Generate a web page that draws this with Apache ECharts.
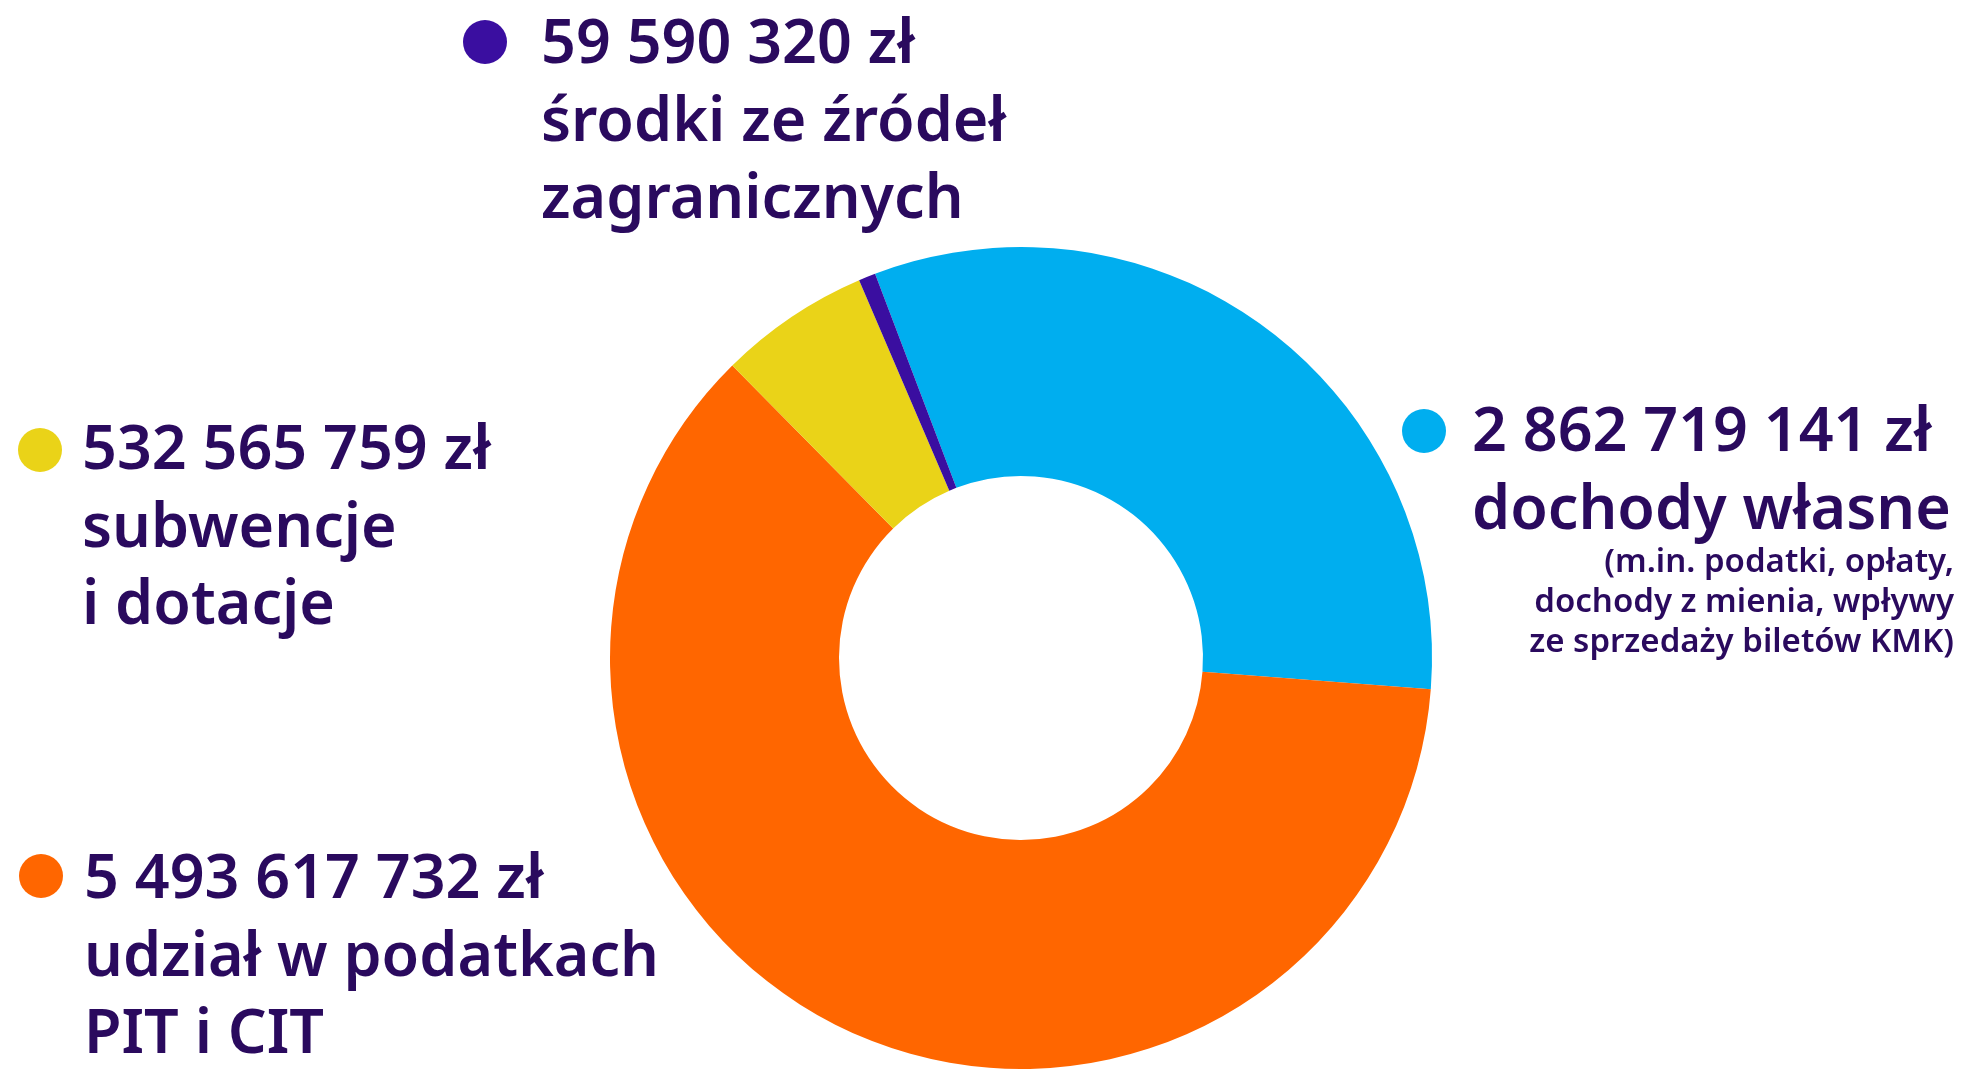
<!DOCTYPE html>
<html>
<head>
<meta charset="utf-8">
<script src="https://cdn.jsdelivr.net/npm/echarts@6/dist/echarts.min.js"></script>
<style>
	html, body { margin: 0; padding: 0; background: #fff; }
	#chart { width: 1964px; height: 1069px; }
</style>
</head>
<body>
<div id="chart"></div>
<script>
// dane: dochody budżetu
var names = ['dochody własne', 'udział w podatkach PIT i CIT', 'subwencje i dotacje', 'środki ze źródeł zagranicznych'];
var values = [2862719141, 5493617732, 532565759, 59590320];
var colors = ['#00AEEF', '#FF6600', '#EAD318', '#3A0EA0'];
var labelLines = [
	['dochody własne'],
	['udział w podatkach', 'PIT i CIT'],
	['subwencje', 'i dotacje'],
	['środki ze źródeł', 'zagranicznych']
];
var noteLines = ['(m.in. podatki, opłaty,', 'dochody z mienia, wpływy', 'ze sprzedaży biletów KMK)'];

var textColor = '#2A0A5E';
var font = '"Noto Sans", sans-serif';

// pozycje bloków opisu (kropka + tekst)
var blocks = [
	{ dot: [1424, 431], x: 1472, y: 452 },
	{ dot: [41, 876], x: 84, y: 899 },
	{ dot: [40, 450], x: 82, y: 470 },
	{ dot: [485, 42], x: 541, y: 64 }
];

function formatZl(v) {
	return String(v).replace(/\B(?=(\d{3})+(?!\d))/g, ' ') + ' zł';
}

function lineText(txt, x, baseline, size, align) {
	return {
		type: 'text',
		x: x,
		y: baseline - size * 0.3,
		style: {
			text: txt,
			fill: textColor,
			font: '600 ' + size + 'px ' + font,
			textAlign: align || 'left',
			textVerticalAlign: 'middle'
		}
	};
}

var graphics = [];
blocks.forEach(function(b, i) {
	graphics.push({
		type: 'circle',
		shape: { cx: b.dot[0], cy: b.dot[1], r: 22 },
		style: { fill: colors[i] }
	});
	var lines = [formatZl(values[i])].concat(labelLines[i]);
	lines.forEach(function(t, k) {
		graphics.push(lineText(t, b.x, b.y + k * 77.5, 61));
	});
});
noteLines.forEach(function(t, k) {
	graphics.push(lineText(t, 1954, 572 + k * 40, 33, 'right'));
});

var myChart = echarts.init(document.getElementById('chart'));
myChart.setOption({
	backgroundColor: '#fff',
	animation: false,
	graphic: graphics,
	series: [{
		type: 'pie',
		center: [1021, 658],
		radius: [182, 411],
		startAngle: 110.8,
		clockwise: true,
		silent: true,
		label: { show: false },
		labelLine: { show: false },
		itemStyle: { borderWidth: 0 },
		data: names.map(function(n, i) {
			return { name: n, value: values[i], itemStyle: { color: colors[i] } };
		})
	}]
});
</script>
</body>
</html>
